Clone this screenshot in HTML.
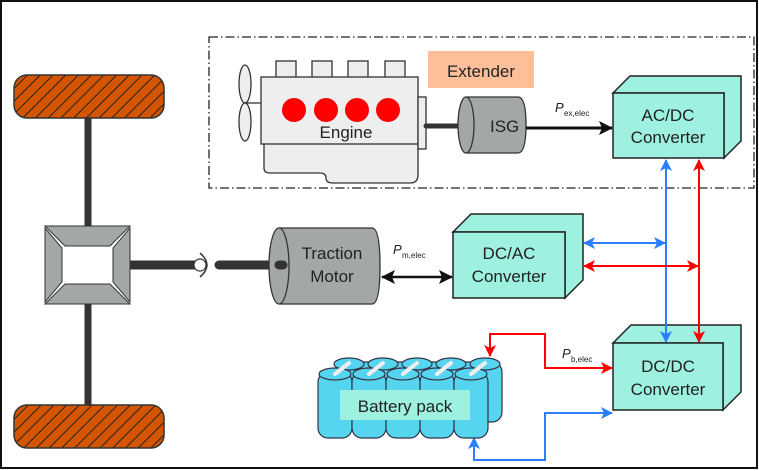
<!DOCTYPE html>
<html><head><meta charset="utf-8"><style>
html,body{margin:0;padding:0;background:#fff}
svg{display:block}
text{font-family:"Liberation Sans",Arial,sans-serif}
</style></head><body>
<svg width="759" height="471" viewBox="0 0 759 471" xmlns="http://www.w3.org/2000/svg">
<defs>
<pattern id="hatch" width="9" height="9" patternUnits="userSpaceOnUse" patternTransform="rotate(45)">
<rect width="9" height="9" fill="#d45500"/><line x1="0" y1="0" x2="0" y2="9" stroke="#222" stroke-width="2"/>
</pattern>
<marker id="abig" markerWidth="14" markerHeight="14" refX="13" refY="7" orient="auto-start-reverse" markerUnits="userSpaceOnUse"><path d="M0,0 L14,7 L0,14 L3,7 z" fill="#111"/></marker>
<marker id="ar" markerWidth="12" markerHeight="12" refX="11" refY="6" orient="auto-start-reverse" markerUnits="userSpaceOnUse"><path d="M0,0 L12,6 L0,12 L3,6 z" fill="#f00"/></marker>
<marker id="abl" markerWidth="12" markerHeight="12" refX="11" refY="6" orient="auto-start-reverse" markerUnits="userSpaceOnUse"><path d="M0,0 L12,6 L0,12 L3,6 z" fill="#2a7fff"/></marker>
</defs>
<rect x="1" y="1" width="756" height="467" fill="#fff" stroke="#111" stroke-width="2"/>
<rect x="209" y="37" width="545" height="151" fill="none" stroke="#222" stroke-width="1.3" stroke-dasharray="9,3,1.5,3"/>
<rect x="428" y="51" width="106" height="37" fill="#fdbf9a"/>
<text x="481" y="77" font-size="17" text-anchor="middle" fill="#222">Extender</text>
<g stroke="#333" stroke-width="1.3" fill="#eeeeee">
<rect x="276" y="61" width="20" height="17"/><rect x="312" y="61" width="20" height="17"/><rect x="348" y="61" width="20" height="17"/><rect x="385" y="61" width="20" height="17"/>
<path d="M264,143 L264,168 Q264,173 270,173 L320,173 Q326,173 326,178 Q326,183 333,183 L410,183 Q418,183 418,175 L418,143"/>
<rect x="261" y="77" width="157" height="67"/>
<rect x="418" y="97" width="8" height="52"/>
<ellipse cx="245" cy="84" rx="6" ry="19"/><ellipse cx="245" cy="122" rx="6" ry="19"/>
<line x1="245" y1="103" x2="261" y2="103"/>
</g>
<g fill="#f00"><circle cx="294" cy="110" r="12"/><circle cx="326" cy="110" r="12"/><circle cx="357" cy="110" r="12"/><circle cx="388" cy="110" r="12"/></g>
<text x="346" y="138" font-size="17" text-anchor="middle" fill="#222">Engine</text>
<line x1="426" y1="126" x2="466" y2="126" stroke="#333" stroke-width="5" stroke-linecap="round"/>
<path d="M466,97 L518,97 Q526,97 526,125 Q526,153 518,153 L466,153 Z" fill="#a3a8a6" stroke="#333" stroke-width="1.3"/>
<ellipse cx="466" cy="125" rx="8" ry="28" fill="#a3a8a6" stroke="#333" stroke-width="1.3"/>
<text x="490" y="132" font-size="17" fill="#222">ISG</text>
<line x1="526" y1="128" x2="612" y2="128" stroke="#111" stroke-width="3" marker-end="url(#abig)"/>
<text x="555" y="112" font-size="13" font-style="italic" font-family="Liberation Serif" fill="#222">P</text>
<text x="564" y="116" font-size="8" font-family="Liberation Serif" fill="#222">ex,elec</text>
<g stroke="#222" stroke-width="1.5" fill="#9ef0e0">
<path d="M613,93 L630,76 L741,76 L741,141 L724,158 L724,93 Z"/>
<rect x="613" y="93" width="111" height="65"/>
<path d="M453,232 L471,214 L583,214 L583,280 L565,298 L565,232 Z"/>
<rect x="453" y="232" width="112" height="66"/>
<path d="M613,343 L631,325 L741,325 L741,392 L723,410 L723,343 Z"/>
<rect x="613" y="343" width="110" height="67"/>
</g>
<g font-size="17" text-anchor="middle" fill="#222">
<text x="668" y="121">AC/DC</text><text x="668" y="143">Converter</text>
<text x="509" y="259">DC/AC</text><text x="509" y="282">Converter</text>
<text x="668" y="372">DC/DC</text><text x="668" y="395">Converter</text>
</g>
<line x1="666" y1="160" x2="666" y2="342" stroke="#2a7fff" stroke-width="2" marker-start="url(#abl)" marker-end="url(#abl)"/>
<line x1="699" y1="160" x2="699" y2="342" stroke="#f00" stroke-width="2" marker-start="url(#ar)" marker-end="url(#ar)"/>
<line x1="584" y1="243" x2="665" y2="243" stroke="#2a7fff" stroke-width="2" marker-start="url(#abl)" marker-end="url(#abl)"/>
<line x1="584" y1="266" x2="698" y2="266" stroke="#f00" stroke-width="2" marker-start="url(#ar)" marker-end="url(#ar)"/>
<polyline points="612,368 545,368 545,334 490,334 490,356" fill="none" stroke="#f00" stroke-width="2" marker-start="url(#ar)" marker-end="url(#ar)"/>
<polyline points="612,413 545,413 545,460 474,460 474,438" fill="none" stroke="#2a7fff" stroke-width="2" marker-start="url(#abl)" marker-end="url(#abl)"/>
<text x="562" y="358" font-size="13" font-style="italic" font-family="Liberation Serif" fill="#222">P</text>
<text x="571" y="362" font-size="8" font-family="Liberation Serif" fill="#222">b,elec</text>
<g stroke="#334" stroke-width="1.2" fill="#55d5f0">
<rect x="340" y="362" width="162" height="60" rx="10"/>
<rect x="318" y="372" width="34" height="66" rx="10"/><rect x="352" y="372" width="34" height="66" rx="10"/><rect x="386" y="372" width="34" height="66" rx="10"/><rect x="420" y="372" width="34" height="66" rx="10"/><rect x="454" y="372" width="34" height="66" rx="10"/>
<ellipse cx="349" cy="364" rx="15" ry="6"/><ellipse cx="383" cy="364" rx="15" ry="6"/><ellipse cx="417" cy="364" rx="15" ry="6"/><ellipse cx="451" cy="364" rx="15" ry="6"/><ellipse cx="485" cy="364" rx="15" ry="6"/>
<ellipse cx="335" cy="374" rx="16" ry="6"/><ellipse cx="369" cy="374" rx="16" ry="6"/><ellipse cx="403" cy="374" rx="16" ry="6"/><ellipse cx="437" cy="374" rx="16" ry="6"/><ellipse cx="471" cy="374" rx="16" ry="6"/>
</g>
<g stroke="#eee" stroke-width="4" stroke-linecap="round">
<line x1="335" y1="374" x2="349" y2="363"/><line x1="369" y1="374" x2="383" y2="363"/><line x1="403" y1="374" x2="417" y2="363"/><line x1="437" y1="374" x2="451" y2="363"/><line x1="471" y1="374" x2="485" y2="363"/>
</g>
<rect x="340" y="390" width="130" height="30" fill="#9ef0e0"/>
<text x="405" y="412" font-size="17" text-anchor="middle" fill="#222">Battery pack</text>
<rect x="14" y="75" width="150" height="43" rx="13" fill="url(#hatch)" stroke="#333" stroke-width="1.5"/>
<rect x="14" y="405" width="150" height="43" rx="13" fill="url(#hatch)" stroke="#333" stroke-width="1.5"/>
<line x1="88" y1="118" x2="88" y2="226" stroke="#333" stroke-width="7"/>
<line x1="88" y1="304" x2="88" y2="405" stroke="#333" stroke-width="7"/>
<g fill="#a3a8a6" stroke="#333" stroke-width="1">
<path d="M45,226 L130,226 L110,246 L65,246 Z"/><path d="M45,304 L130,304 L110,284 L65,284 Z"/>
<path d="M45,228 L62,248 L62,282 L45,302 Z"/><path d="M130,228 L113,248 L113,282 L130,302 Z"/>
</g>
<rect x="65" y="248" width="45" height="35" fill="#fff"/>
<line x1="130" y1="265" x2="196" y2="265" stroke="#333" stroke-width="9"/>
<circle cx="200" cy="265" r="6" fill="#fff" stroke="#333" stroke-width="1.2"/>
<path d="M200,253 Q214,265 200,277" fill="none" stroke="#333" stroke-width="1.5"/>
<line x1="219" y1="265" x2="283" y2="265" stroke="#333" stroke-width="9" stroke-linecap="round"/>
<path d="M279,228 L372,228 Q380,228 380,266 Q380,304 372,304 L279,304 Z" fill="#a3a8a6" stroke="#333" stroke-width="1.3"/>
<ellipse cx="279" cy="266" rx="10" ry="38" fill="#a3a8a6" stroke="#333" stroke-width="1.3"/>
<line x1="279" y1="265" x2="283" y2="265" stroke="#333" stroke-width="9" stroke-linecap="round"/>
<text x="332" y="259" font-size="17" text-anchor="middle" fill="#222">Traction</text>
<text x="332" y="282" font-size="17" text-anchor="middle" fill="#222">Motor</text>
<line x1="382" y1="277" x2="452" y2="277" stroke="#111" stroke-width="2.5" marker-start="url(#abig)" marker-end="url(#abig)"/>
<text x="393" y="254" font-size="13" font-style="italic" font-family="Liberation Serif" fill="#222">P</text>
<text x="402" y="258" font-size="8" font-family="Liberation Serif" fill="#222">m,elec</text>
</svg>
</body></html>
